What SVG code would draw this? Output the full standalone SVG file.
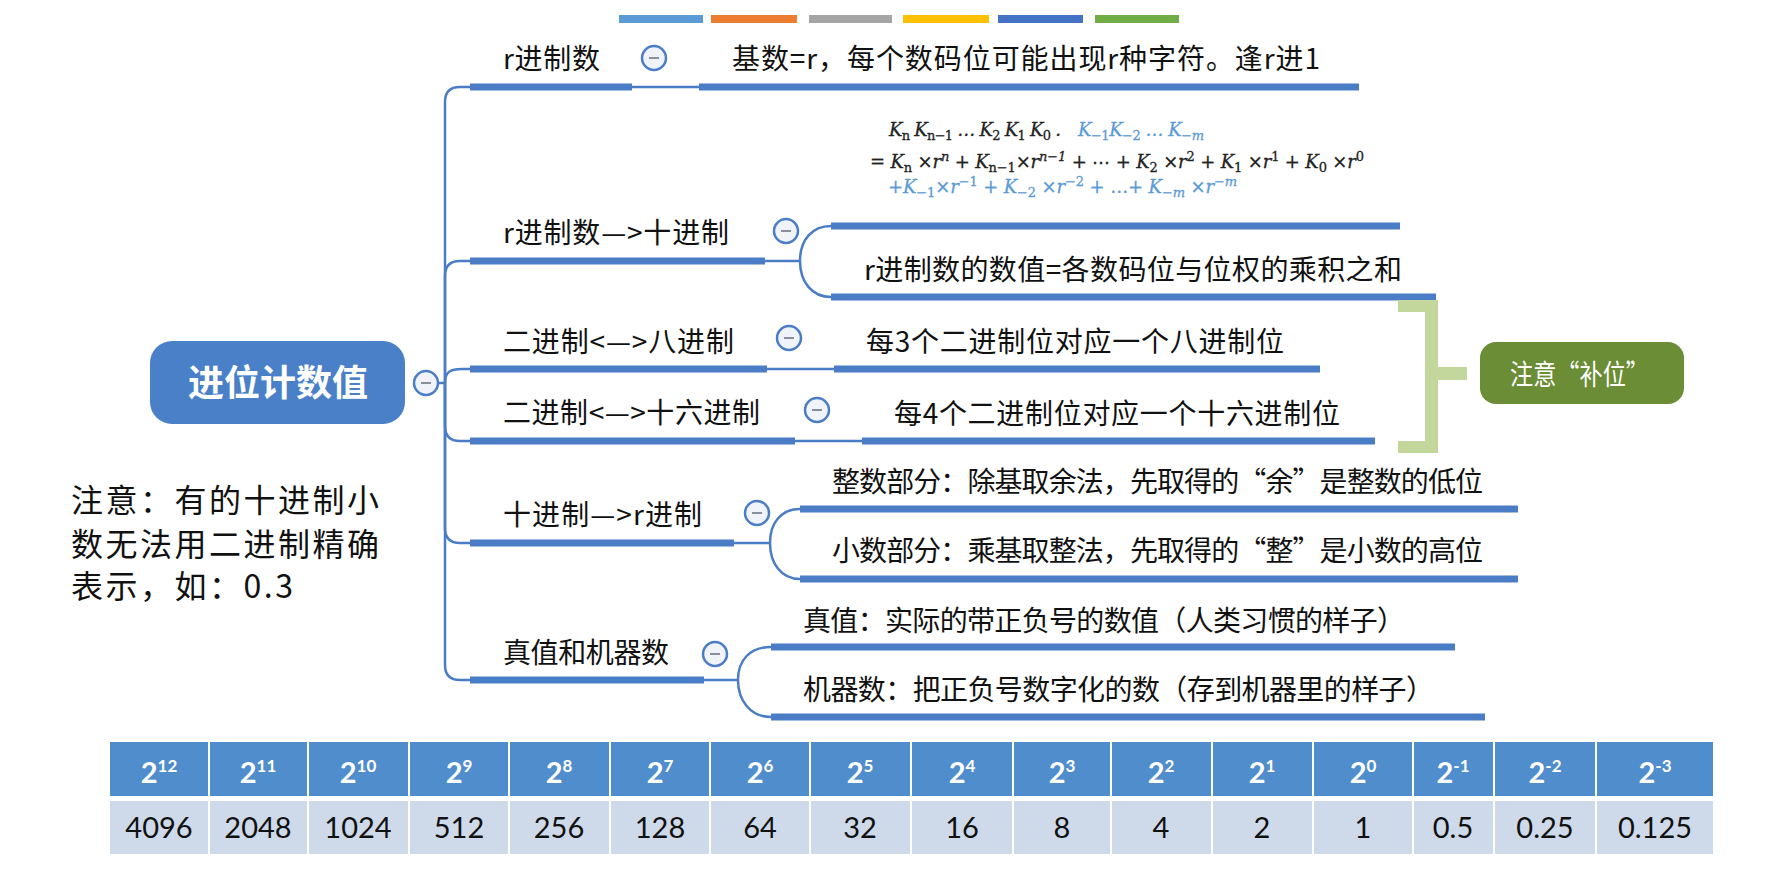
<svg xmlns="http://www.w3.org/2000/svg" width="1771" height="881" viewBox="0 0 1771 881">
<style>
.t{font-family:"Noto Sans CJK SC","Noto Sans",sans-serif;font-size:28px;fill:#111}
.bar{fill:#4a7dc6}
.thin{stroke:#4a7dc6;stroke-width:2.5;fill:none}
.btn circle{fill:#f0f4fa;stroke:#4a7dc6;stroke-width:2.5}
.btn line{stroke:#8a909a;stroke-width:2}
.m{font-family:"DejaVu Serif","Liberation Serif",serif;font-style:italic;font-size:18px;fill:#222;stroke:#222;stroke-width:0.3}
.mb{fill:#5b9bd5;stroke:#5b9bd5}
.up{font-style:normal}
.hd{fill:#4f8dcc}
.dt{fill:#cedaea}
.ht{font-family:Lato,"Liberation Sans",sans-serif;font-weight:bold;font-size:29px;fill:#fff}
.dtt{font-family:Lato,"Liberation Sans",sans-serif;font-size:29px;fill:#111}
</style>
<g id="legend">
<rect x="619" y="15" width="84" height="8" fill="#5b9bd5"/>
<rect x="711" y="15" width="86" height="8" fill="#ed7d31"/>
<rect x="809" y="15" width="83" height="8" fill="#a5a5a5"/>
<rect x="903" y="15" width="86" height="8" fill="#ffc000"/>
<rect x="998" y="15" width="85" height="8" fill="#4472c4"/>
<rect x="1095" y="15" width="84" height="8" fill="#70ad47"/>
</g>
<g id="connectors">
<path class="thin" d="M438,383 H445"/>
<path class="thin" d="M445,383 V102 Q445,87 460,87 H470"/>
<path class="thin" d="M445,383 V276 Q445,261 460,261 H470"/>
<path class="thin" d="M445,383 C445,372 450,369 462,369 H470"/>
<path class="thin" d="M445,383 V426 Q445,441 460,441 H470"/>
<path class="thin" d="M445,383 V528 Q445,543 460,543 H470"/>
<path class="thin" d="M445,383 V665 Q445,680 460,680 H470"/>
<path class="thin" d="M632,87 H699"/>
<path class="thin" d="M765,261 H800 C800,240 812,226 831,226 M800,261 C800,282 812,297 831,297"/>
<path class="thin" d="M767,369 H834"/>
<path class="thin" d="M795,441 H862"/>
<path class="thin" d="M734,543 H770 C770,523 781,509 800,509 M770,543 C770,563 781,579 800,579"/>
<path class="thin" d="M704,680 H738 C738,660 750,647 771,647 M738,680 C738,700 750,717 771,717"/>
</g>
<g id="root">
<rect x="150" y="341" width="255" height="83" rx="22" fill="#4a80c8"/>
<text x="278" y="396" text-anchor="middle" style="font-family:'Noto Sans CJK SC',sans-serif;font-size:36px;font-weight:bold;fill:#fff">进位计数值</text>
<g class="btn"><circle cx="426" cy="383" r="12"/><line x1="421" y1="383" x2="431" y2="383"/></g>
</g>
<g id="n1">
<text class="t" x="503" y="69" textLength="97" lengthAdjust="spacing">r进制数</text>
<rect class="bar" x="470" y="83.5" width="162" height="7"/>
<g class="btn"><circle cx="654" cy="58" r="12"/><line x1="649" y1="58" x2="659" y2="58"/></g>
</g>
<g id="n1a">
<text class="t" x="732" y="69" textLength="588" lengthAdjust="spacing">基数=r，每个数码位可能出现r种字符。逢r进1</text>
<rect class="bar" x="699" y="83.5" width="660" height="7"/>
</g>
<g id="n2">
<text class="t" x="503" y="243" textLength="226" lengthAdjust="spacing">r进制数—&gt;十进制</text>
<rect class="bar" x="470" y="257.5" width="295" height="7"/>
<g class="btn"><circle cx="786" cy="231" r="12"/><line x1="781" y1="231" x2="791" y2="231"/></g>
</g>
<g id="n2a">
<text class="m" x="889" y="136" textLength="172" lengthAdjust="spacing">K<tspan class="up" font-size="13" baseline-shift="-4">n</tspan> K<tspan class="up" font-size="13" baseline-shift="-4">n−1</tspan>  …  K<tspan class="up" font-size="13" baseline-shift="-4">2</tspan> K<tspan class="up" font-size="13" baseline-shift="-4">1</tspan> K<tspan class="up" font-size="13" baseline-shift="-4">0</tspan> .</text>
<text class="m mb" x="1078" y="136" textLength="126" lengthAdjust="spacing">K<tspan class="up" font-size="13" baseline-shift="-4">−1</tspan>K<tspan class="up" font-size="13" baseline-shift="-4">−2</tspan> … K<tspan font-size="13" baseline-shift="-4">−m</tspan></text>
<text class="m" x="870" y="168" textLength="494" lengthAdjust="spacing"><tspan class="up">=</tspan> K<tspan class="up" font-size="13" baseline-shift="-4">n</tspan><tspan class="up"> ×</tspan>r<tspan font-size="13" baseline-shift="7">n</tspan><tspan class="up"> +  </tspan>K<tspan class="up" font-size="13" baseline-shift="-4">n−1</tspan><tspan class="up">×</tspan>r<tspan font-size="13" baseline-shift="7">n−1</tspan><tspan class="up"> + ⋯ + </tspan>K<tspan class="up" font-size="13" baseline-shift="-4">2</tspan><tspan class="up"> ×</tspan>r<tspan class="up" font-size="13" baseline-shift="7">2</tspan><tspan class="up"> +  </tspan>K<tspan class="up" font-size="13" baseline-shift="-4">1</tspan><tspan class="up"> ×</tspan>r<tspan class="up" font-size="13" baseline-shift="7">1</tspan><tspan class="up"> + </tspan>K<tspan class="up" font-size="13" baseline-shift="-4">0</tspan><tspan class="up"> ×</tspan>r<tspan class="up" font-size="13" baseline-shift="7">0</tspan></text>
<text class="m mb" x="888" y="193" textLength="349" lengthAdjust="spacing"><tspan class="up">+</tspan>K<tspan class="up" font-size="13" baseline-shift="-4">−1</tspan><tspan class="up">×</tspan>r<tspan class="up" font-size="13" baseline-shift="7">−1</tspan><tspan class="up"> + </tspan>K<tspan class="up" font-size="13" baseline-shift="-4">−2</tspan><tspan class="up"> ×</tspan>r<tspan class="up" font-size="13" baseline-shift="7">−2</tspan><tspan class="up"> +  …+ </tspan>K<tspan font-size="13" baseline-shift="-4">−m</tspan><tspan class="up"> ×</tspan>r<tspan font-size="13" baseline-shift="7">−m</tspan></text>
<rect class="bar" x="831" y="222.5" width="569" height="7"/>
</g>
<g id="n2b">
<text class="t" x="864" y="280" textLength="538" lengthAdjust="spacing">r进制数的数值=各数码位与位权的乘积之和</text>
<rect class="bar" x="831" y="293.5" width="605" height="7"/>
</g>
<g id="n3">
<text class="t" x="503" y="352" textLength="231" lengthAdjust="spacing">二进制&lt;—&gt;八进制</text>
<rect class="bar" x="470" y="365.5" width="297" height="7"/>
<g class="btn"><circle cx="789" cy="338" r="12"/><line x1="784" y1="338" x2="794" y2="338"/></g>
</g>
<g id="n3a">
<text class="t" x="866" y="352" textLength="418" lengthAdjust="spacing">每3个二进制位对应一个八进制位</text>
<rect class="bar" x="834" y="365.5" width="486" height="7"/>
</g>
<g id="n4">
<text class="t" x="503" y="423" textLength="257" lengthAdjust="spacing">二进制&lt;—&gt;十六进制</text>
<rect class="bar" x="470" y="437.5" width="325" height="7"/>
<g class="btn"><circle cx="817" cy="410" r="12"/><line x1="812" y1="410" x2="822" y2="410"/></g>
</g>
<g id="n4a">
<text class="t" x="894" y="424" textLength="446" lengthAdjust="spacing">每4个二进制位对应一个十六进制位</text>
<rect class="bar" x="862" y="437.5" width="513" height="7"/>
</g>
<g id="n5">
<text class="t" x="503" y="525" textLength="199" lengthAdjust="spacing">十进制—&gt;r进制</text>
<rect class="bar" x="470" y="539.5" width="264" height="7"/>
<g class="btn"><circle cx="757" cy="513" r="12"/><line x1="752" y1="513" x2="762" y2="513"/></g>
</g>
<g id="n5a">
<text class="t" x="832" y="492" textLength="651" lengthAdjust="spacing">整数部分：除基取余法，先取得的“余”是整数的低位</text>
<rect class="bar" x="800" y="505.5" width="718" height="7"/>
</g>
<g id="n5b">
<text class="t" x="832" y="561" textLength="651" lengthAdjust="spacing">小数部分：乘基取整法，先取得的“整”是小数的高位</text>
<rect class="bar" x="800" y="575.5" width="718" height="7"/>
</g>
<g id="n6">
<text class="t" x="503" y="663" textLength="166" lengthAdjust="spacing">真值和机器数</text>
<rect class="bar" x="470" y="676.5" width="234" height="7"/>
<g class="btn"><circle cx="715" cy="654" r="12"/><line x1="710" y1="654" x2="720" y2="654"/></g>
</g>
<g id="n6a">
<text class="t" x="803" y="631" textLength="602" lengthAdjust="spacing">真值：实际的带正负号的数值（人类习惯的样子）</text>
<rect class="bar" x="771" y="643.5" width="684" height="7"/>
</g>
<g id="n6b">
<text class="t" x="803" y="700" textLength="631" lengthAdjust="spacing">机器数：把正负号数字化的数（存到机器里的样子）</text>
<rect class="bar" x="771" y="713.5" width="714" height="7"/>
</g>
<g id="bracket" fill="#c3d69b">
<rect x="1398" y="300" width="40" height="12"/>
<rect x="1425" y="300" width="13" height="153"/>
<rect x="1398" y="441" width="40" height="12"/>
<rect x="1438" y="367" width="29" height="13"/>
</g>
<g id="note-buwei">
<rect x="1480" y="342" width="204" height="62" rx="16" fill="#6a8d36"/>
<text x="1510" y="385" textLength="139" lengthAdjust="spacingAndGlyphs" style="font-family:'Noto Sans CJK SC',sans-serif;font-size:28px;fill:#fff">注意“补位”</text>
</g>
<g id="note-left">
<text class="t" style="font-size:32px;letter-spacing:2.5px" x="71" y="512">注意：有的十进制小</text>
<text class="t" style="font-size:32px;letter-spacing:2.5px" x="71" y="556">数无法用二进制精确</text>
<text class="t" style="font-size:32px;letter-spacing:2.5px" x="71" y="598">表示，如：0.3</text>
</g>
<g id="table">
<rect class="hd" x="110" y="742" width="98" height="54"/>
<rect class="hd" x="210" y="742" width="97" height="54"/>
<rect class="hd" x="309" y="742" width="99" height="54"/>
<rect class="hd" x="410" y="742" width="98" height="54"/>
<rect class="hd" x="510" y="742" width="99" height="54"/>
<rect class="hd" x="611" y="742" width="98" height="54"/>
<rect class="hd" x="711" y="742" width="98" height="54"/>
<rect class="hd" x="811" y="742" width="99" height="54"/>
<rect class="hd" x="912" y="742" width="100" height="54"/>
<rect class="hd" x="1014" y="742" width="96" height="54"/>
<rect class="hd" x="1112" y="742" width="99" height="54"/>
<rect class="hd" x="1213" y="742" width="99" height="54"/>
<rect class="hd" x="1314" y="742" width="98" height="54"/>
<rect class="hd" x="1414" y="742" width="79" height="54"/>
<rect class="hd" x="1495" y="742" width="100" height="54"/>
<rect class="hd" x="1597" y="742" width="116" height="54"/>
<rect class="dt" x="110" y="801" width="98" height="53"/>
<rect class="dt" x="210" y="801" width="97" height="53"/>
<rect class="dt" x="309" y="801" width="99" height="53"/>
<rect class="dt" x="410" y="801" width="98" height="53"/>
<rect class="dt" x="510" y="801" width="99" height="53"/>
<rect class="dt" x="611" y="801" width="98" height="53"/>
<rect class="dt" x="711" y="801" width="98" height="53"/>
<rect class="dt" x="811" y="801" width="99" height="53"/>
<rect class="dt" x="912" y="801" width="100" height="53"/>
<rect class="dt" x="1014" y="801" width="96" height="53"/>
<rect class="dt" x="1112" y="801" width="99" height="53"/>
<rect class="dt" x="1213" y="801" width="99" height="53"/>
<rect class="dt" x="1314" y="801" width="98" height="53"/>
<rect class="dt" x="1414" y="801" width="79" height="53"/>
<rect class="dt" x="1495" y="801" width="100" height="53"/>
<rect class="dt" x="1597" y="801" width="116" height="53"/>
<g class="ht" text-anchor="middle">
<text x="159" y="783">2<tspan font-size="17" dy="-11">12</tspan></text>
<text x="258" y="783">2<tspan font-size="17" dy="-11">11</tspan></text>
<text x="358" y="783">2<tspan font-size="17" dy="-11">10</tspan></text>
<text x="459" y="783">2<tspan font-size="17" dy="-11">9</tspan></text>
<text x="559" y="783">2<tspan font-size="17" dy="-11">8</tspan></text>
<text x="660" y="783">2<tspan font-size="17" dy="-11">7</tspan></text>
<text x="760" y="783">2<tspan font-size="17" dy="-11">6</tspan></text>
<text x="860" y="783">2<tspan font-size="17" dy="-11">5</tspan></text>
<text x="962" y="783">2<tspan font-size="17" dy="-11">4</tspan></text>
<text x="1062" y="783">2<tspan font-size="17" dy="-11">3</tspan></text>
<text x="1161" y="783">2<tspan font-size="17" dy="-11">2</tspan></text>
<text x="1262" y="783">2<tspan font-size="17" dy="-11">1</tspan></text>
<text x="1363" y="783">2<tspan font-size="17" dy="-11">0</tspan></text>
<text x="1453" y="783">2<tspan font-size="17" dy="-11">-1</tspan></text>
<text x="1545" y="783">2<tspan font-size="17" dy="-11">-2</tspan></text>
<text x="1655" y="783">2<tspan font-size="17" dy="-11">-3</tspan></text>
</g>
<g class="dtt" text-anchor="middle">
<text x="159" y="838">4096</text>
<text x="258" y="838">2048</text>
<text x="358" y="838">1024</text>
<text x="459" y="838">512</text>
<text x="559" y="838">256</text>
<text x="660" y="838">128</text>
<text x="760" y="838">64</text>
<text x="860" y="838">32</text>
<text x="962" y="838">16</text>
<text x="1062" y="838">8</text>
<text x="1161" y="838">4</text>
<text x="1262" y="838">2</text>
<text x="1363" y="838">1</text>
<text x="1453" y="838">0.5</text>
<text x="1545" y="838">0.25</text>
<text x="1655" y="838">0.125</text>
</g>
</g>
</svg>
